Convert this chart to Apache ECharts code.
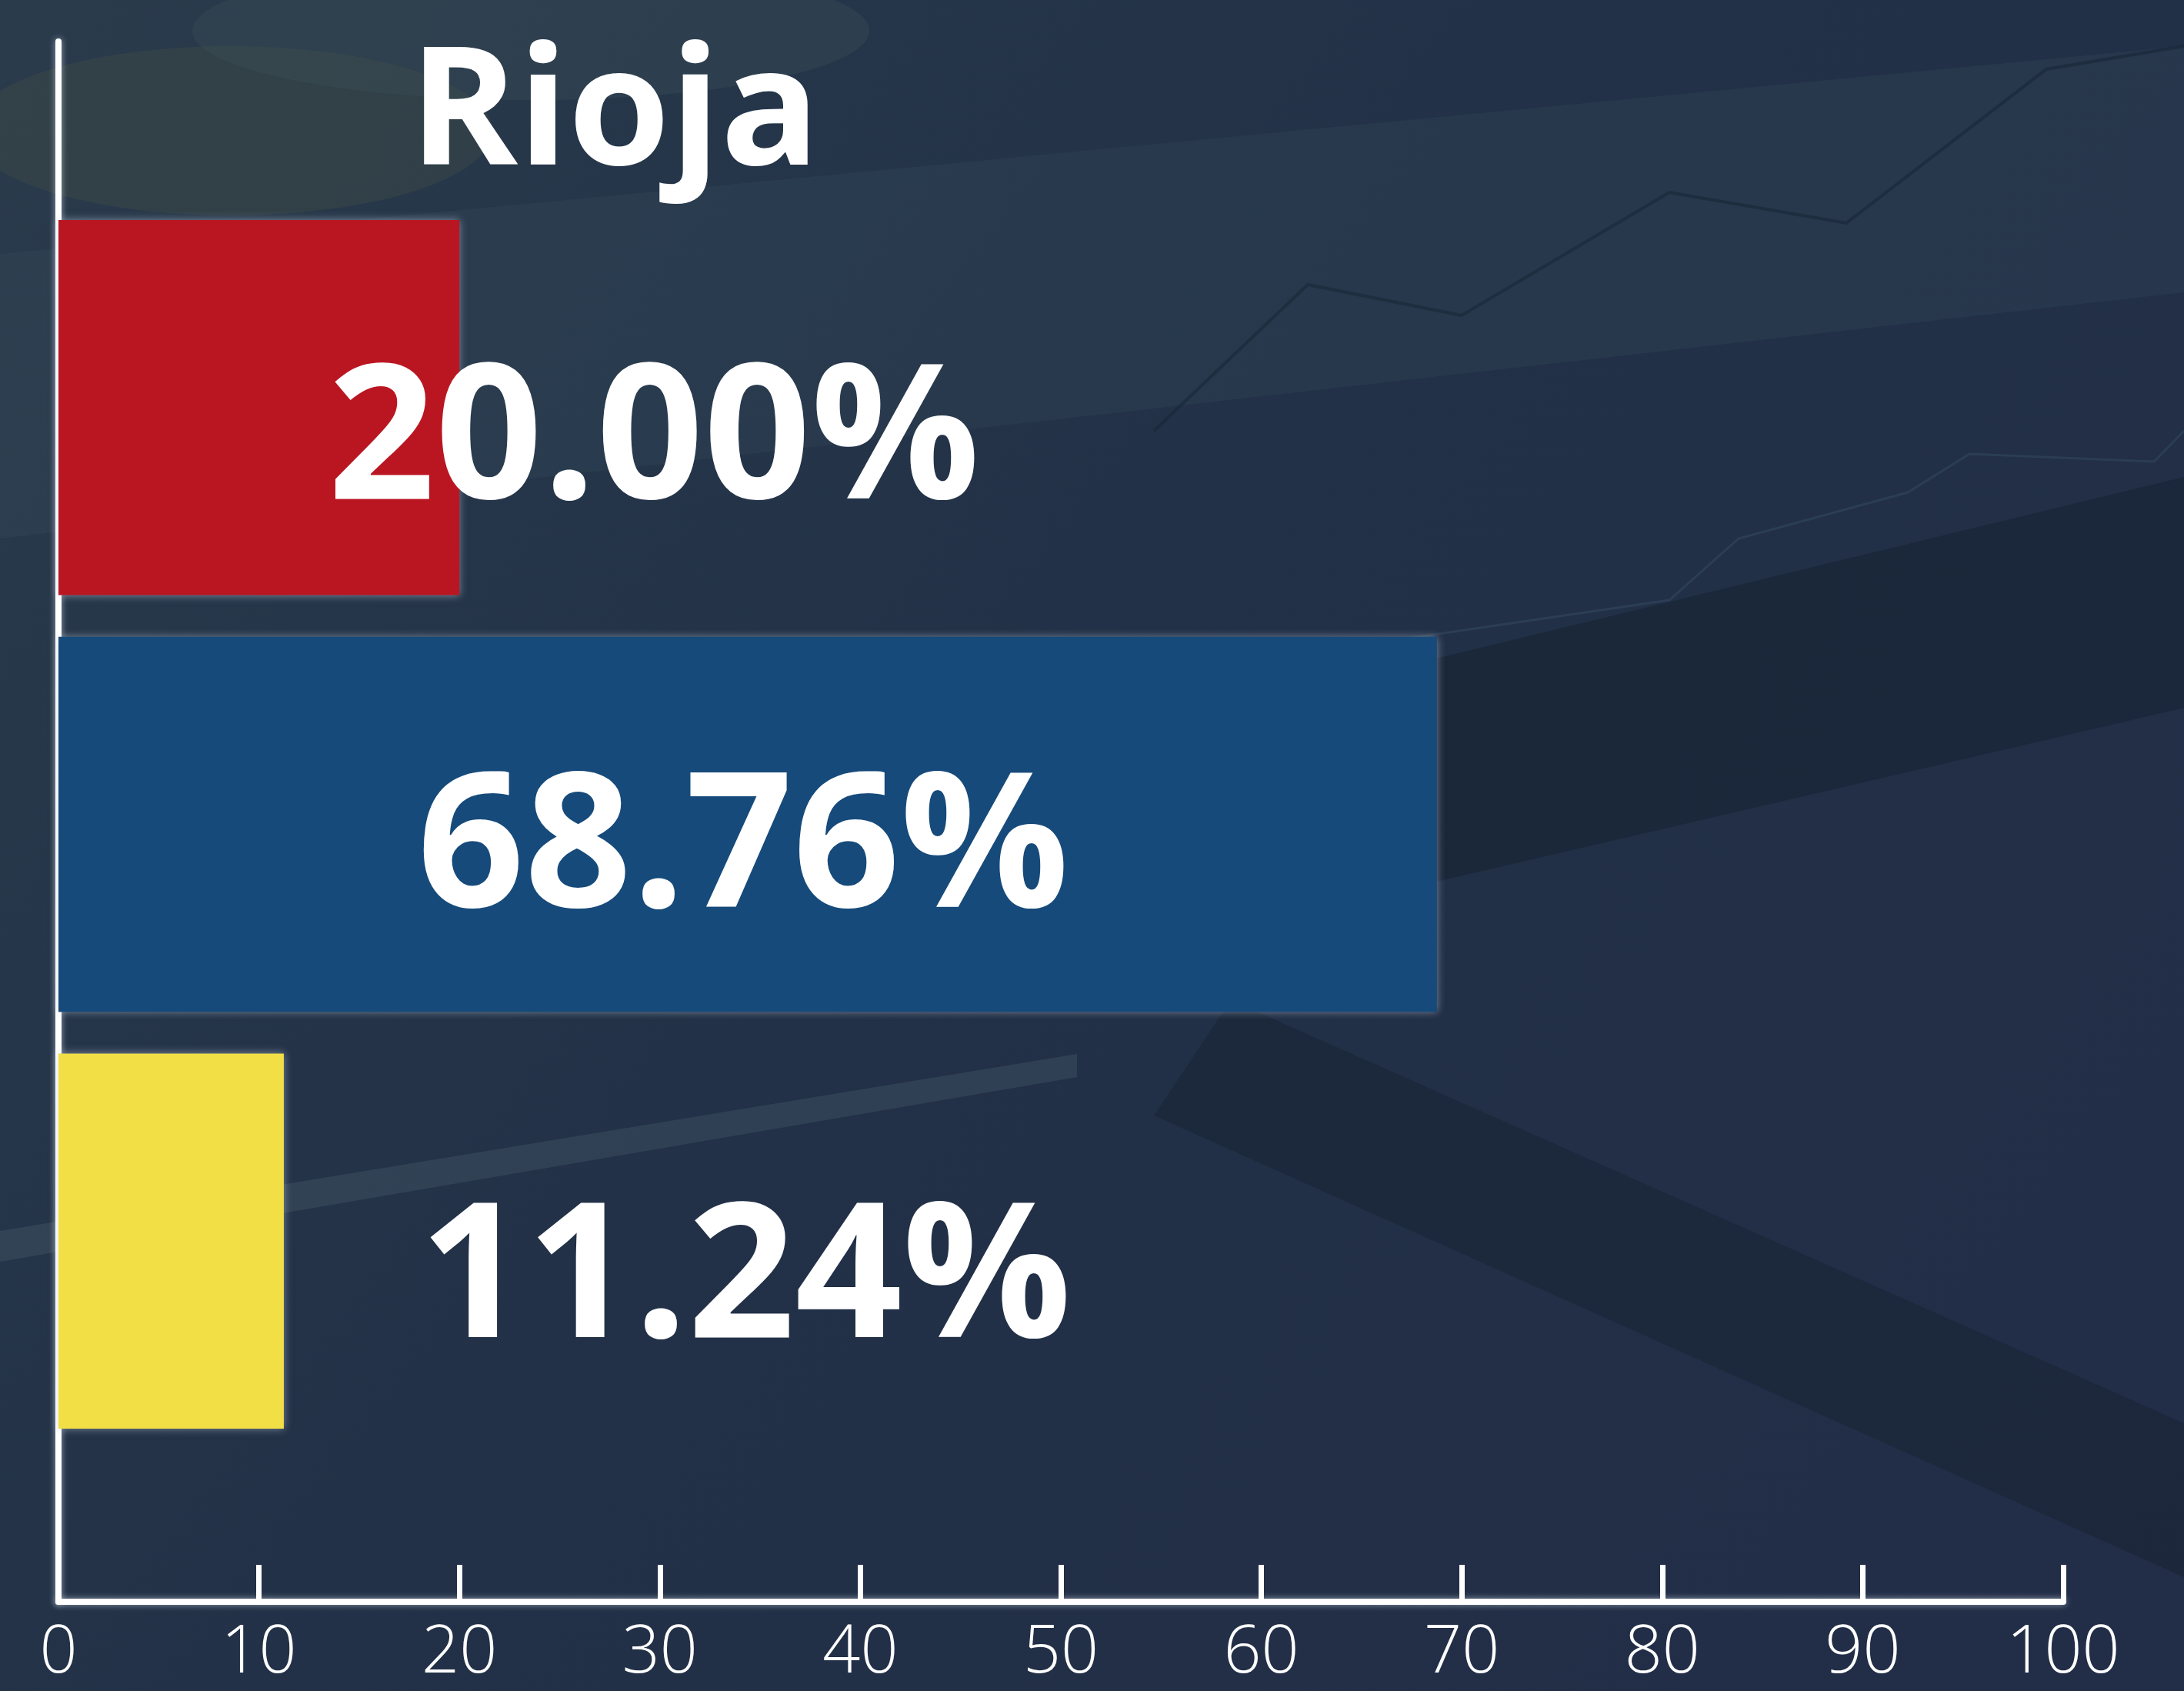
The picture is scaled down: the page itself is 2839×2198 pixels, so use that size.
<!DOCTYPE html>
<html>
<head>
<meta charset="utf-8">
<title>Rioja</title>
<script src="https://cdn.jsdelivr.net/npm/echarts@6/dist/echarts.min.js"></script>
<style>
  html, body { margin: 0; padding: 0; background: #1f2c42; }
  #main { width: 2839px; height: 2198px; }
</style>
</head>
<body>
<div id="main"></div>
<script>
// datos
var titleText = 'Rioja';
var categories = ['A', 'B', 'C'];
var values = [20.00, 68.76, 11.24];
var barColors = ['#ba1622', '#164a7a', '#f2df45'];
var xTicks = [0, 10, 20, 30, 40, 50, 60, 70, 80, 90, 100];

var chart = echarts.init(document.getElementById('main'));

// label positions inside each bar (px from bar origin)
var labelPos = [[774, 292], [890, 282], [893, 299]];

var barData = values.map(function (v, i) {
  return {
    value: v,
    itemStyle: { color: barColors[i] },
    label: { position: labelPos[i] }
  };
});

var glow = { shadowBlur: 8, shadowColor: 'rgba(220,230,240,0.6)' };

var option = {
  backgroundColor: {
    type: 'linear', x: 0, y: 0, x2: 1, y2: 1,
    colorStops: [
      { offset: 0, color: '#2a3b4c' },
      { offset: 0.45, color: '#223147' },
      { offset: 1, color: '#222d47' }
    ]
  },
  graphic: [
    // fondo decorativo
    { type: 'ellipse', shape: { cx: 300, cy: 170, rx: 340, ry: 110 }, style: { fill: 'rgba(70,80,70,0.35)' }, z: -10 },
    { type: 'ellipse', shape: { cx: 690, cy: 40, rx: 440, ry: 90 }, style: { fill: 'rgba(60,80,90,0.35)' }, z: -10 },
    { type: 'polygon', shape: { points: [[0, 330], [2839, 60], [2839, 380], [0, 700]] }, style: { fill: 'rgba(60,80,95,0.22)' }, z: -10 },
    { type: 'polygon', shape: { points: [[1850, 860], [2839, 620], [2839, 920], [1850, 1150]] }, style: { fill: 'rgba(15,25,35,0.35)' }, z: -10 },
    { type: 'polygon', shape: { points: [[1600, 1300], [2839, 1850], [2839, 2050], [1500, 1450]] }, style: { fill: 'rgba(15,25,35,0.3)' }, z: -10 },
    { type: 'polygon', shape: { points: [[0, 1600], [1400, 1370], [1400, 1400], [0, 1640]] }, style: { fill: 'rgba(90,110,125,0.25)' }, z: -10 },
    { type: 'polyline', shape: { points: [[1500, 560], [1700, 370], [1900, 410], [2170, 250], [2400, 290], [2660, 90], [2839, 60]] }, style: { stroke: 'rgba(20,35,50,0.5)', lineWidth: 4, fill: null }, z: -10 },
    { type: 'polyline', shape: { points: [[1500, 1070], [1580, 930], [1760, 840], [2170, 780], [2260, 700], [2480, 640], [2560, 590], [2800, 600], [2839, 560]] }, style: { stroke: 'rgba(60,90,110,0.35)', lineWidth: 3, fill: null }, z: -10 },
    {
      type: 'text', left: 532, top: 46,
      style: {
        text: titleText, fill: '#ffffff',
        font: '700 214px "Open Sans", Lato, sans-serif'
      },
      z: 10
    }
  ],
  grid: [
    { left: 76, right: 157, top: 259, bottom: 314 },
    { left: 76, right: 157, top: 54, bottom: 116 }
  ],
  xAxis: [
    { gridIndex: 0, type: 'value', min: 0, max: 100, show: false },
    {
      gridIndex: 1, type: 'value', min: 0, max: 100, interval: 10,
      axisLine: { show: true, lineStyle: Object.assign({ color: '#ffffff', width: 8 }, glow) },
      axisTick: { show: true, inside: true, length: 48, lineStyle: { color: '#ffffff', width: 7 } },
      axisLabel: {
        color: '#ffffff', fontSize: 86, fontFamily: '"Open Sans", sans-serif', fontWeight: 300,
        margin: 24,
        formatter: function (v) { return xTicks.indexOf(v) >= 0 ? String(v) : ''; }
      },
      splitLine: { show: false }
    }
  ],
  yAxis: [
    {
      gridIndex: 0, type: 'category', data: categories, inverse: true,
      axisLine: { show: false }, axisTick: { show: false }, axisLabel: { show: false }
    },
    {
      gridIndex: 1, type: 'value', min: 0, max: 1,
      axisLine: { show: true, lineStyle: Object.assign({ color: '#ffffff', width: 8 }, glow) },
      axisTick: { show: false }, axisLabel: { show: false }, splitLine: { show: false }
    }
  ],
  series: [{
    type: 'bar',
    xAxisIndex: 0, yAxisIndex: 0,
    barCategoryGap: '10%',
    data: barData,
    itemStyle: {
      shadowBlur: 10, shadowColor: 'rgba(200,210,225,0.55)'
    },
    label: {
      show: true,
      align: 'center', verticalAlign: 'middle',
      color: '#ffffff',
      fontSize: 244, fontWeight: 700,
      fontFamily: '"Open Sans", Lato, sans-serif',
      formatter: function (p) { return p.value.toFixed(2) + '%'; }
    },
    z: 3
  }]
};

chart.setOption(option);
</script>
</body>
</html>
